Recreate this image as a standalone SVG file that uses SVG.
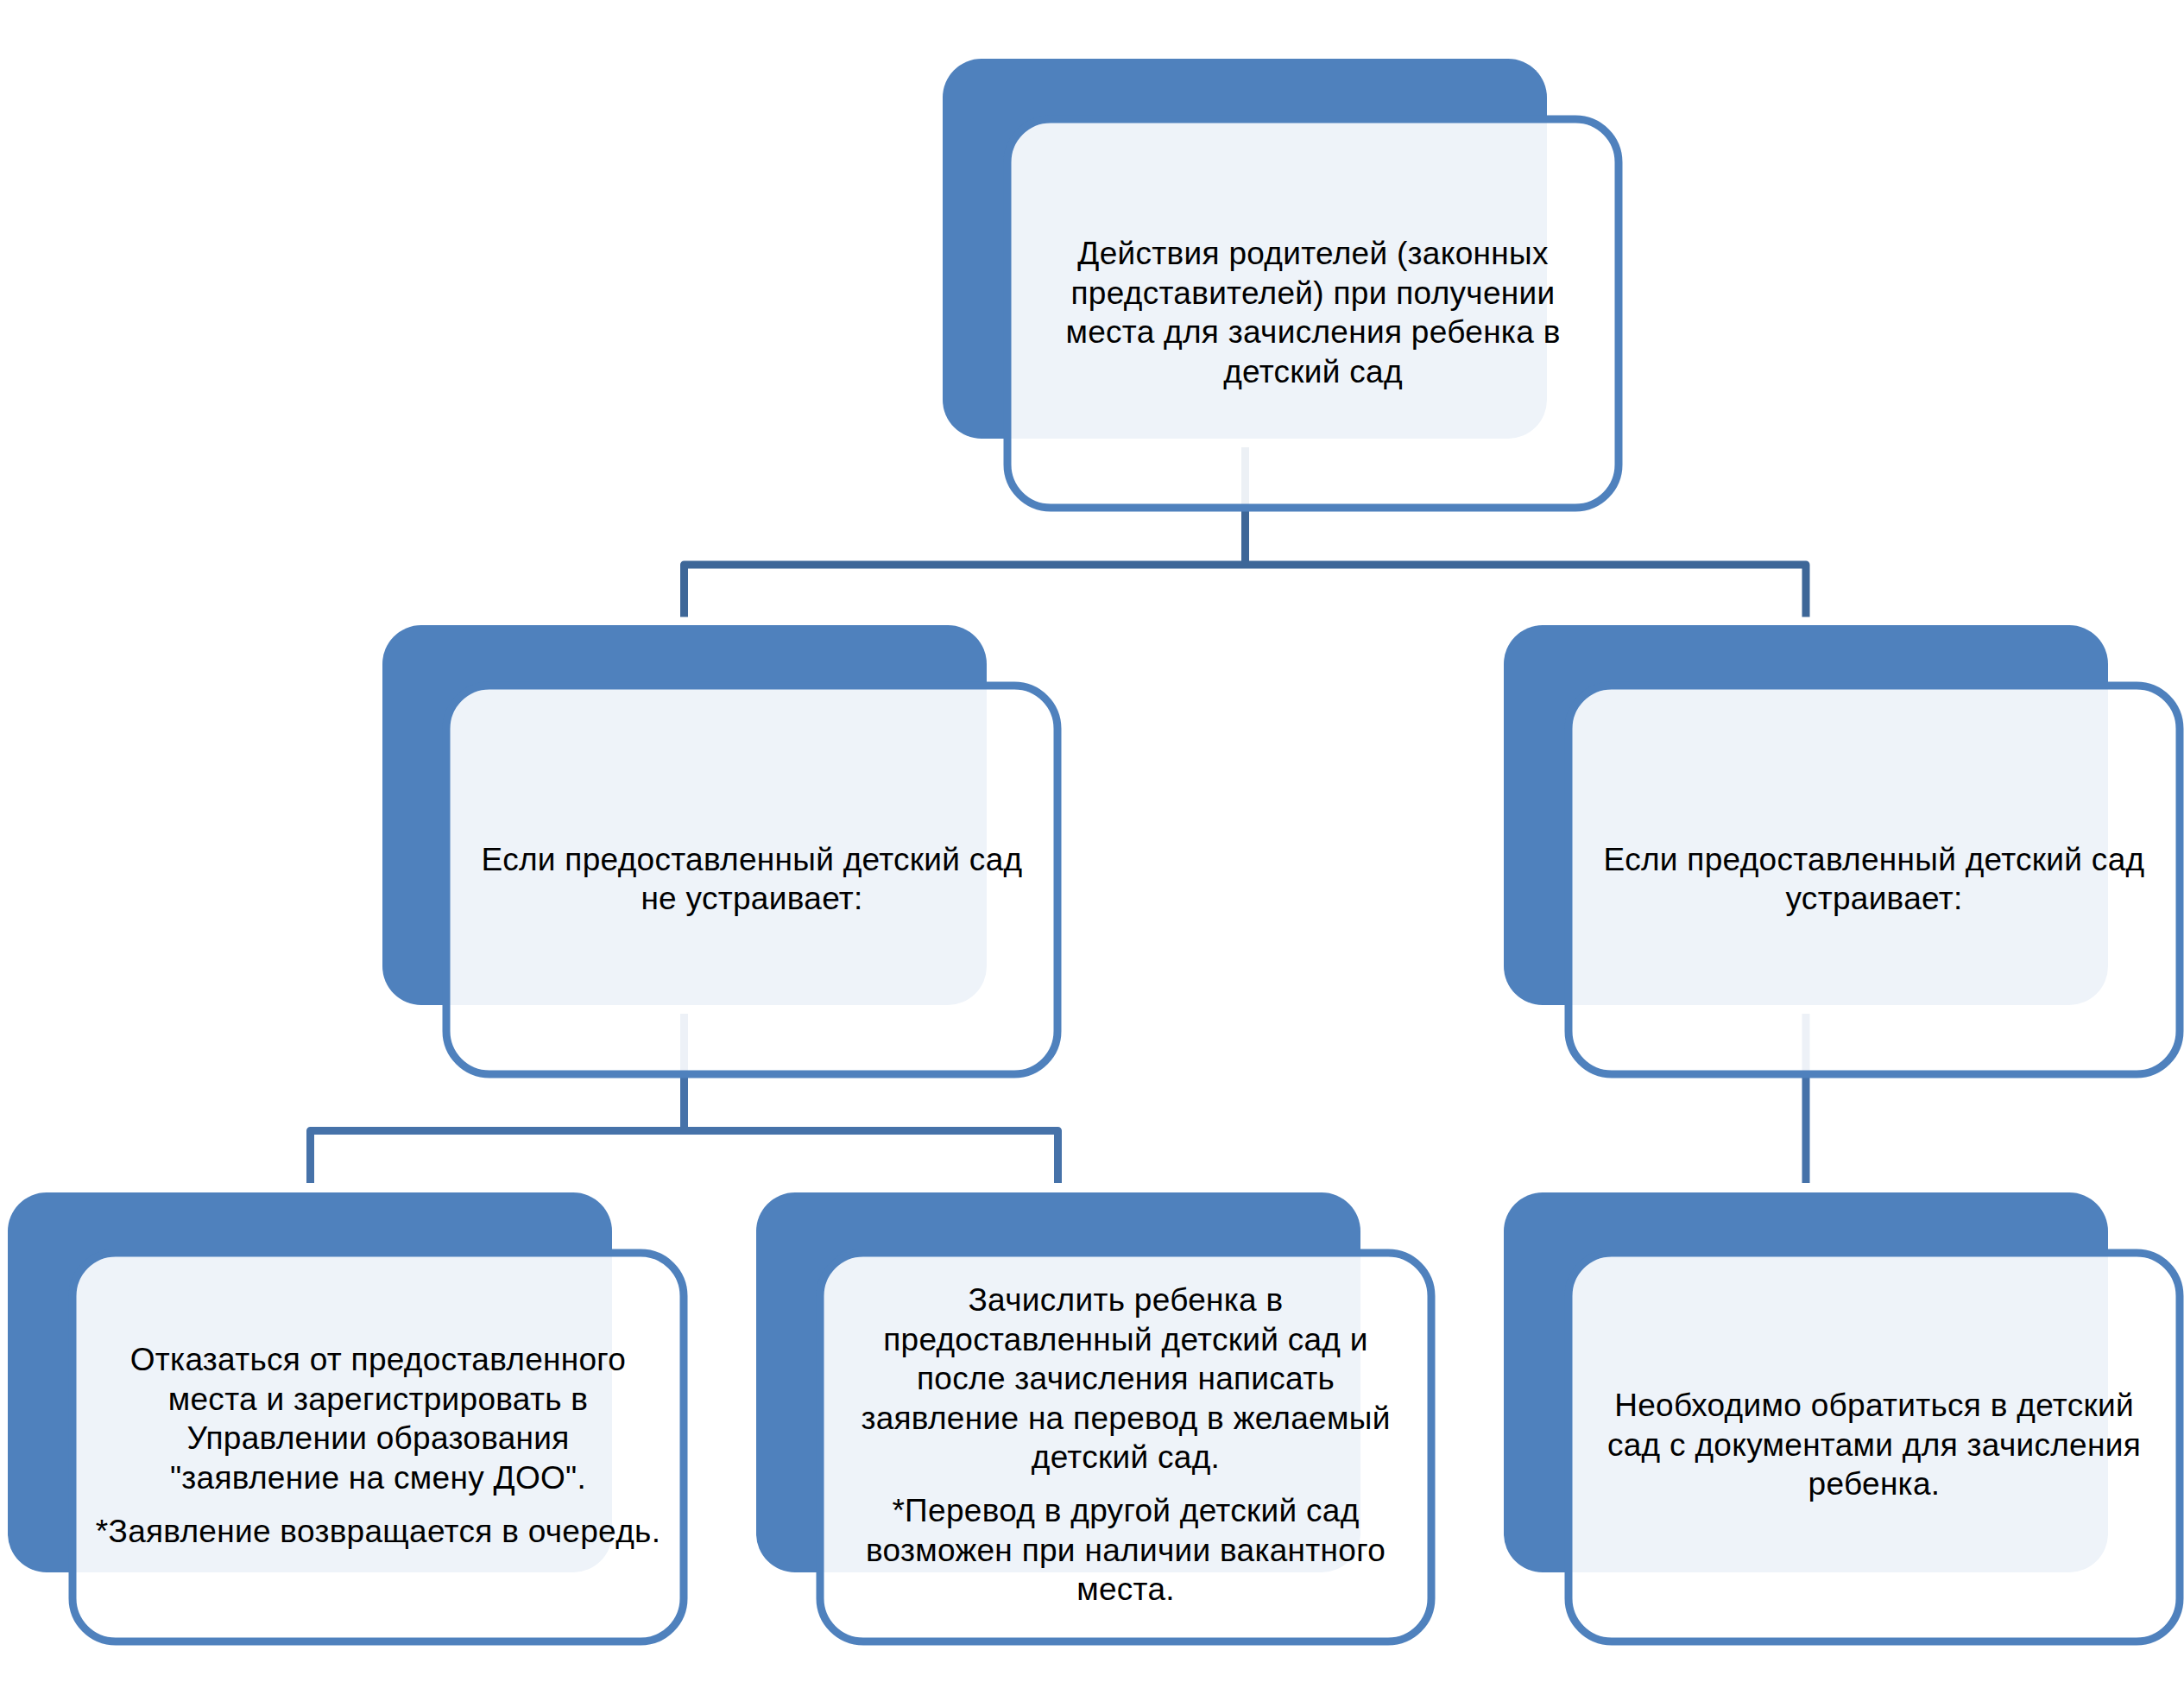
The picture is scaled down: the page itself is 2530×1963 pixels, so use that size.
<svg xmlns="http://www.w3.org/2000/svg" width="2530" height="1963" viewBox="0 0 2530 1963">
<style>
.bg{fill:#4F81BD}
.fg{fill:#FFFFFF;fill-opacity:0.9;stroke:#4F81BD;stroke-width:9}
.c1{fill:none;stroke:#3E6798;stroke-width:9;stroke-linejoin:round}
.c2{fill:none;stroke:#4672A9;stroke-width:9;stroke-linejoin:round}
text{font-family:"Liberation Sans",Arial,sans-serif;font-size:37px;letter-spacing:0.3px;fill:#000;text-anchor:middle}
</style>
<rect width="2530" height="1963" fill="#FFFFFF"/>
<g id="connectors">
<path class="c1" d="M1442.5 518 V654 M792.5 714.5 V654 H2092 V714.5"/>
<path class="c2" d="M792.5 1174 V1309.5 M359.5 1370 V1309.5 H1225.5 V1370"/>
<path class="c2" d="M2092 1174 V1370"/>
</g>
<g id="node-top">
<rect class="bg" x="1092" y="68" width="700" height="440" rx="45"/>
<rect class="fg" x="1167" y="138" width="708" height="450" rx="50"/>
<text x="1521" y="306">Действия родителей (законных</text>
<text x="1521" y="351.5">представителей) при получении</text>
<text x="1521" y="397">места для зачисления ребенка в</text>
<text x="1521" y="442.5">детский сад</text>
</g>
<g id="node-not-ok">
<rect class="bg" x="443" y="724" width="700" height="440" rx="45"/>
<rect class="fg" x="517" y="794" width="708" height="450" rx="50"/>
<text x="871" y="1008">Если предоставленный детский сад</text>
<text x="871" y="1053">не устраивает:</text>
</g>
<g id="node-ok">
<rect class="bg" x="1742" y="724" width="700" height="440" rx="45"/>
<rect class="fg" x="1817" y="794" width="708" height="450" rx="50"/>
<text x="2171" y="1008">Если предоставленный детский сад</text>
<text x="2171" y="1053">устраивает:</text>
</g>
<g id="node-refuse">
<rect class="bg" x="9" y="1381" width="700" height="440" rx="45"/>
<rect class="fg" x="84" y="1451" width="708" height="450" rx="50"/>
<text x="438" y="1587">Отказаться от предоставленного</text>
<text x="438" y="1632.5">места и зарегистрировать в</text>
<text x="438" y="1678">Управлении образования</text>
<text x="438" y="1723.5">"заявление на смену ДОО".</text>
<text x="438" y="1785.5">*Заявление возвращается в очередь.</text>
</g>
<g id="node-enroll-transfer">
<rect class="bg" x="876" y="1381" width="700" height="440" rx="45"/>
<rect class="fg" x="950" y="1451" width="708" height="450" rx="50"/>
<text x="1304" y="1518">Зачислить ребенка в</text>
<text x="1304" y="1563.5">предоставленный детский сад и</text>
<text x="1304" y="1609">после зачисления написать</text>
<text x="1304" y="1654.5">заявление на перевод в желаемый</text>
<text x="1304" y="1700">детский сад.</text>
<text x="1304" y="1762">*Перевод в другой детский сад</text>
<text x="1304" y="1807.5">возможен при наличии вакантного</text>
<text x="1304" y="1853">места.</text>
</g>
<g id="node-apply">
<rect class="bg" x="1742" y="1381" width="700" height="440" rx="45"/>
<rect class="fg" x="1817" y="1451" width="708" height="450" rx="50"/>
<text x="2171" y="1640">Необходимо обратиться в детский</text>
<text x="2171" y="1685.5">сад с документами для зачисления</text>
<text x="2171" y="1731">ребенка.</text>
</g>
</svg>
